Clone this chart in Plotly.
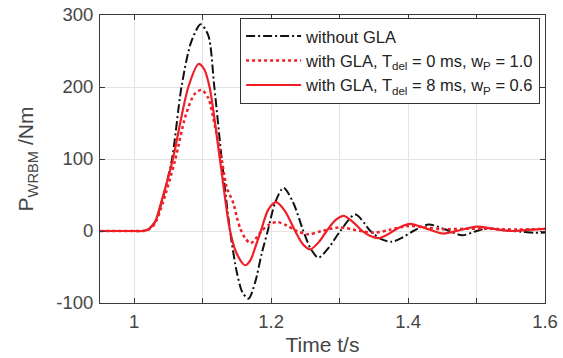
import plotly.graph_objects as go

# Wing root bending moment response (time in s, moment in Nm)
t_nogla = [0.95, 1.0, 1.012, 1.02, 1.03, 1.04, 1.0548, 1.069, 1.083, 1.097, 1.108, 1.117,
           1.128, 1.140, 1.150, 1.158, 1.167, 1.177, 1.186, 1.195, 1.206, 1.218, 1.232,
           1.247, 1.258, 1.269, 1.285, 1.301, 1.323, 1.345, 1.360, 1.376, 1.392, 1.4076,
           1.43, 1.455, 1.479, 1.497, 1.515, 1.54, 1.565, 1.585, 1.6]
p_nogla = [0, 0, 0, 2, 12, 40, 98, 200, 262, 287, 272, 200,
           98, 0, -58, -85, -94, -70, -32, 0, 40, 60, 40,
           0, -25, -37, -22, 0, 23, 0, -11, -15, -9, 0,
           9, 2, -6, -1, 3.5, 1, -1, -2.5, -2]

t_gla0 = [0.95, 1.0, 1.012, 1.02, 1.03, 1.0426, 1.0596, 1.075, 1.088, 1.0985, 1.108, 1.117,
          1.128, 1.135, 1.145, 1.150, 1.155, 1.162, 1.170, 1.178, 1.186, 1.197, 1.209,
          1.222, 1.2375, 1.2546, 1.274, 1.30, 1.33, 1.352, 1.375, 1.40, 1.425, 1.45,
          1.48, 1.52, 1.56, 1.6]
p_gla0 = [0, 0, 0, 1.5, 10, 42, 98, 160, 190, 196, 185, 150,
          98, 61, 38, 19, 3, -10, -17, -10, 0, 9, 12.5,
          8, 0, -4.6, 0, 5, 0, -2.3, 2, 7, 5, 2.5,
          3, 3, 2, 3]

t_gla8 = [0.95, 1.0, 1.012, 1.02, 1.03, 1.04, 1.056, 1.079, 1.094, 1.102, 1.110, 1.1254,
          1.140, 1.150, 1.162, 1.170, 1.177, 1.185, 1.196, 1.207, 1.22, 1.235, 1.246,
          1.257, 1.27, 1.281, 1.294, 1.306, 1.32, 1.333, 1.345, 1.357, 1.37, 1.38,
          1.392, 1.403, 1.428, 1.451, 1.475, 1.5, 1.525, 1.55, 1.575, 1.6]
p_gla8 = [0, 0, 0, 2, 12, 42, 98, 200, 232, 225, 200, 98,
          0, -32, -47.6, -40, -22, 0, 30, 40, 28, 0, -18,
          -25.5, -15, 0, 15, 21, 12, 0, -7, -10, -5, 1,
          7, 10, 3, -3.5, 1, 6, 3, 0, 1.5, 3]

x_ticks = [1.0, 1.1, 1.2, 1.3, 1.4, 1.5, 1.6]
x_labels = ["1", "", "1.2", "", "1.4", "", "1.6"]
y_ticks = [-100, 0, 100, 200, 300]
y_labels = ["-100", "0", "100", "200", "300"]

names = ["without GLA",
         "with GLA, T<sub>del</sub> = 0 ms, w<sub>P</sub> = 1.0",
         "with GLA, T<sub>del</sub> = 8 ms, w<sub>P</sub> = 0.6"]

red = "rgb(240,30,38)"
axis_col = "#3a3a3a"
text_col = "#454545"

fig = go.Figure()
fig.add_trace(go.Scatter(x=t_nogla, y=p_nogla, mode="lines", name=names[0],
                         line=dict(color="#111111", width=2, dash="9px,3px,2px,3px",
                                   shape="spline", smoothing=0.8)))
fig.add_trace(go.Scatter(x=t_gla0, y=p_gla0, mode="lines", name=names[1],
                         line=dict(color=red, width=2.5, dash="dot",
                                   shape="spline", smoothing=0.8)))
fig.add_trace(go.Scatter(x=t_gla8, y=p_gla8, mode="lines", name=names[2],
                         line=dict(color=red, width=2.2,
                                   shape="spline", smoothing=0.8)))

axis_common = dict(showline=True, linecolor=axis_col, linewidth=1, mirror="allticks",
                   ticks="inside", ticklen=5, tickcolor=axis_col, automargin=False,
                   showgrid=True, gridcolor="#e4e4e4", gridwidth=1, zeroline=False,
                   tickfont=dict(size=18.5, color=text_col))

fig.update_xaxes(range=[0.95, 1.6], tickvals=x_ticks, ticktext=x_labels,
                 ticklabelstandoff=2,
                 title=dict(text="Time t/s", font=dict(size=21, color=text_col), standoff=6),
                 **axis_common)
fig.update_yaxes(range=[-100, 300], tickvals=y_ticks, ticktext=y_labels,
                 ticklabelstandoff=2,
                 title=dict(text="P<sub>WRBM</sub> /Nm", font=dict(size=21, color=text_col),
                            standoff=16),
                 **axis_common)

fig.update_layout(
    width=563, height=358,
    margin=dict(l=100, r=18, t=15, b=55),
    paper_bgcolor="white", plot_bgcolor="white",
    font=dict(family="Liberation Sans, Arial, sans-serif", color="#333333"),
    showlegend=True,
    legend=dict(x=0.989, y=0.99, xanchor="right", yanchor="top",
                bgcolor="white", bordercolor="#333333", borderwidth=1,
                font=dict(size=16.5, color="#222222"), tracegroupgap=0,
                itemwidth=55),
)

fig.write_html("out.html")
